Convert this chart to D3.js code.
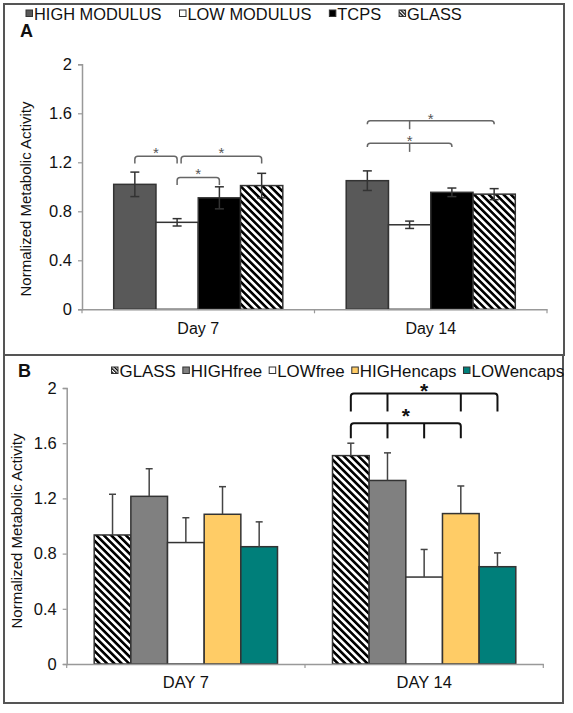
<!DOCTYPE html>
<html><head><meta charset="utf-8">
<script src="https://cdn.jsdelivr.net/npm/d3@7"></script>
<style>body{margin:0;background:#fff}svg{display:block;font-family:"Liberation Sans",Arial,sans-serif}</style>
</head><body>
<script>
// ---------- DATA ----------
const ticksY = [0, 0.4, 0.8, 1.2, 1.6, 2];

const catsA = ["Day 7", "Day 14"];
const seriesA = ["HIGH MODULUS", "LOW MODULUS", "TCPS", "GLASS"];
const valuesA_day7 = [1.02, 0.71, 0.91, 1.01];
const valuesA_day14 = [1.05, 0.69, 0.955, 0.94];
const errA_day7 = [0.10, 0.03, 0.09, 0.10];
const errA_day14 = [0.08, 0.03, 0.035, 0.045];
const bracketsA = [
  {cat: "Day 7", from: "HIGH MODULUS", to: "LOW MODULUS", top: 1.25, leg: 1.19, mids: [], star: 1.31},
  {cat: "Day 7", from: "LOW MODULUS", to: "GLASS", top: 1.25, leg: 1.19, mids: [], star: 1.31},
  {cat: "Day 7", from: "LOW MODULUS", to: "TCPS", top: 1.075, leg: 1.015, mids: [], star: 1.137},
  {cat: "Day 14", from: "HIGH MODULUS", to: "GLASS", top: 1.54, leg: 1.51, mids: ["LOW MODULUS"], midLeg: 1.47, star: 1.59},
  {cat: "Day 14", from: "HIGH MODULUS", to: "TCPS", top: 1.355, leg: 1.325, mids: ["LOW MODULUS"], midLeg: 1.285, star: 1.41}
];

const catsB = ["DAY 7", "DAY 14"];
const seriesB = ["GLASS", "HIGHfree", "LOWfree", "HIGHencaps", "LOWencaps"];
const valuesB_day7 = [0.935, 1.215, 0.88, 1.085, 0.85];
const valuesB_day14 = [1.51, 1.33, 0.63, 1.09, 0.705];
const errB_day7 = [0.295, 0.2, 0.18, 0.2, 0.18];
const errB_day14 = [0.09, 0.2, 0.2, 0.2, 0.1];
const bracketsB = [
  {cat: "DAY 14", from: "GLASS", to: "LOWencaps", top: 1.96, leg: 1.83, mids: ["HIGHfree", "HIGHencaps"], midLeg: 1.83, star: 2.02},
  {cat: "DAY 14", from: "GLASS", to: "HIGHencaps", top: 1.745, leg: 1.635, mids: ["HIGHfree", "LOWfree"], midLeg: 1.635, star: 1.835}
];

// ---------- DRAW ----------
const W = 573, H = 713;
const svg = d3.select("body").append("svg").attr("width", W).attr("height", H);
const defs = svg.append("defs");
function hatch(id, size) {
  const p = defs.append("pattern").attr("id", id).attr("patternUnits", "userSpaceOnUse")
    .attr("width", size).attr("height", size).attr("patternTransform", "rotate(-45)");
  p.append("rect").attr("width", size).attr("height", size).attr("fill", "#fff");
  p.append("rect").attr("width", size * 0.5).attr("height", size).attr("fill", "#000");
}
hatch("hatch", 5.2);
hatch("hatchSmall", 2.6);

const fillA = {"HIGH MODULUS": "#595959", "LOW MODULUS": "#ffffff", "TCPS": "#000000", "GLASS": "url(#hatch)"};
const fillB = {"GLASS": "url(#hatch)", "HIGHfree": "#808080", "LOWfree": "#ffffff", "HIGHencaps": "#ffcc66", "LOWencaps": "#007f7a"};

// panel frames
svg.append("rect").attr("x", 4).attr("y", 4).attr("width", 560).attr("height", 351)
  .attr("fill", "none").attr("stroke", "#555").attr("stroke-width", 2);
svg.append("rect").attr("x", 4).attr("y", 355).attr("width", 559).attr("height", 348)
  .attr("fill", "none").attr("stroke", "#555").attr("stroke-width", 2);

function panel(cfg) {
  const g = svg.append("g");
  const y = d3.scaleLinear().domain([0, 2]).range([cfg.y0, cfg.y2]);
  const x0 = d3.scaleBand().domain(cfg.cats).range([cfg.xL, cfg.xR]).padding(0);
  const x1 = d3.scaleBand().domain(cfg.series).range([0, x0.bandwidth()]).paddingInner(0).paddingOuter(0.75);

  // y axis
  const ya = g.append("g").attr("transform", `translate(${cfg.xL},0)`)
    .call(d3.axisLeft(y).tickValues(ticksY).tickSize(4).tickPadding(6).tickFormat(d => d === 0 ? "0" : d3.format("")(d)));
  ya.select(".domain").attr("stroke", "#999").attr("stroke-width", 1.5);
  ya.selectAll(".tick line").attr("stroke", "#999").attr("stroke-width", 1.2);
  ya.selectAll("text").attr("font-size", 16.5).attr("fill", "#111").attr("font-family", "Liberation Sans, Arial");

  // bars
  cfg.cats.forEach((c, ci) => {
    const vals = cfg.values[ci], errs = cfg.errs[ci];
    const gg = g.append("g").attr("transform", `translate(${x0(c)},0)`);
    cfg.series.forEach((s, si) => {
      gg.append("rect").attr("x", x1(s)).attr("width", x1.bandwidth())
        .attr("y", y(vals[si])).attr("height", y(0) - y(vals[si]))
        .attr("fill", cfg.fill[s]).attr("stroke", "#333").attr("stroke-width", 1.5);
    });
    cfg.series.forEach((s, si) => {
      const cx = x1(s) + x1.bandwidth() / 2;
      const lo = cfg.both ? vals[si] - errs[si] : vals[si];
      const hi = vals[si] + errs[si];
      gg.append("line").attr("x1", cx).attr("x2", cx).attr("y1", y(lo)).attr("y2", y(hi))
        .attr("stroke", cfg.errColor).attr("stroke-width", 1.5);
      gg.append("line").attr("x1", cx - cfg.cap).attr("x2", cx + cfg.cap).attr("y1", y(hi)).attr("y2", y(hi))
        .attr("stroke", cfg.errColor).attr("stroke-width", 1.5);
      if (cfg.both) gg.append("line").attr("x1", cx - cfg.cap).attr("x2", cx + cfg.cap).attr("y1", y(lo)).attr("y2", y(lo))
        .attr("stroke", cfg.errColor).attr("stroke-width", 1.5);
    });
  });

  // x axis
  const xa = g.append("g").attr("transform", `translate(0,${cfg.y0})`)
    .call(d3.axisBottom(x0).tickSize(0).tickPadding(cfg.xPad));
  xa.select(".domain").attr("stroke", "#999").attr("stroke-width", 1.5);
  xa.selectAll("text").attr("font-size", cfg.xFont).attr("fill", "#111").attr("font-family", "Liberation Sans, Arial");
  [cfg.xL, (cfg.xL + cfg.xR) / 2, cfg.xR].forEach(xx => {
    g.append("line").attr("x1", xx).attr("x2", xx).attr("y1", cfg.y0).attr("y2", cfg.y0 + 4)
      .attr("stroke", "#999").attr("stroke-width", 1.2);
  });

  // y label
  g.append("text").attr("transform", `translate(${cfg.labX},${cfg.labY}) rotate(-90)`)
    .attr("text-anchor", "middle").attr("font-size", 15).attr("fill", "#111").text("Normalized Metabolic Activity");

  // brackets
  const cxOf = (c, s) => x0(c) + x1(s) + x1.bandwidth() / 2;
  const r = 3;
  cfg.brackets.forEach(b => {
    const xa1 = cxOf(b.cat, b.from) + (b.dxFrom || 0), xa2 = cxOf(b.cat, b.to);
    const t = y(b.top), l = y(b.leg);
    const path = `M${xa1},${l} L${xa1},${t + r} Q${xa1},${t} ${xa1 + r},${t} L${xa2 - r},${t} Q${xa2},${t} ${xa2},${t + r} L${xa2},${l}`;
    g.append("path").attr("d", path).attr("fill", "none").attr("stroke", cfg.brColor).attr("stroke-width", cfg.brWidth);
    b.mids.forEach(m => {
      const mx = cxOf(b.cat, m);
      g.append("line").attr("x1", mx).attr("x2", mx).attr("y1", t).attr("y2", y(b.midLeg))
        .attr("stroke", cfg.brColor).attr("stroke-width", cfg.brWidth);
    });
    const sy = y(b.star);
    g.append("text").attr("x", (xa1 + xa2) / 2).attr("y", sy + cfg.starSize * 0.6)
      .attr("text-anchor", "middle").attr("font-size", cfg.starSize).attr("font-weight", cfg.starWeight)
      .attr("fill", cfg.starColor).text("*");
  });

  // panel letter
  g.append("text").attr("x", cfg.letterX).attr("y", cfg.letterY).attr("font-size", 18).attr("font-weight", "bold")
    .attr("fill", "#111").text(cfg.letter);

  // legend
  let lx = cfg.legX;
  cfg.series.forEach(s => {
    const sq = cfg.fill[s] === "url(#hatch)" ? "url(#hatchSmall)" : cfg.fill[s];
    g.append("rect").attr("x", lx).attr("y", cfg.legY - 9.5).attr("width", 6.5).attr("height", 6.5)
      .attr("fill", sq).attr("stroke", "#333").attr("stroke-width", 1);
    const t = g.append("text").attr("x", lx + 8).attr("y", cfg.legY).attr("font-size", cfg.legFont)
      .attr("fill", "#111").text(s);
    lx += 8 + t.node().getComputedTextLength() + cfg.legGap;
  });
}

panel({
  cats: catsA, series: seriesA, values: [valuesA_day7, valuesA_day14], errs: [errA_day7, errA_day14],
  fill: fillA, y0: 309.3, y2: 64.3, xL: 82, xR: 547, both: true, cap: 4.5, errColor: "#333",
  xFont: 16, xPad: 13, labX: 31, labY: 199, brackets: bracketsA.map((b, i) => i === 1 ? Object.assign({dxFrom: 4}, b) : b),
  brColor: "#666", brWidth: 1.5, starSize: 15, starWeight: "normal", starColor: "#555",
  letter: "A", letterX: 20, letterY: 37, legX: 26, legY: 19.5, legFont: 16.4, legGap: 18
});
panel({
  cats: catsB, series: seriesB, values: [valuesB_day7, valuesB_day14], errs: [errB_day7, errB_day14],
  fill: fillB, y0: 664, y2: 388, xL: 66.7, xR: 543.3, both: false, cap: 3.5, errColor: "#444",
  xFont: 16.5, xPad: 12, labX: 22, labY: 531, brackets: bracketsB,
  brColor: "#111", brWidth: 2, starSize: 21, starWeight: "bold", starColor: "#111",
  letter: "B", letterX: 18, letterY: 377, legX: 111.5, legY: 376.5, legFont: 16.9, legGap: 7
});
</script>
</body></html>
